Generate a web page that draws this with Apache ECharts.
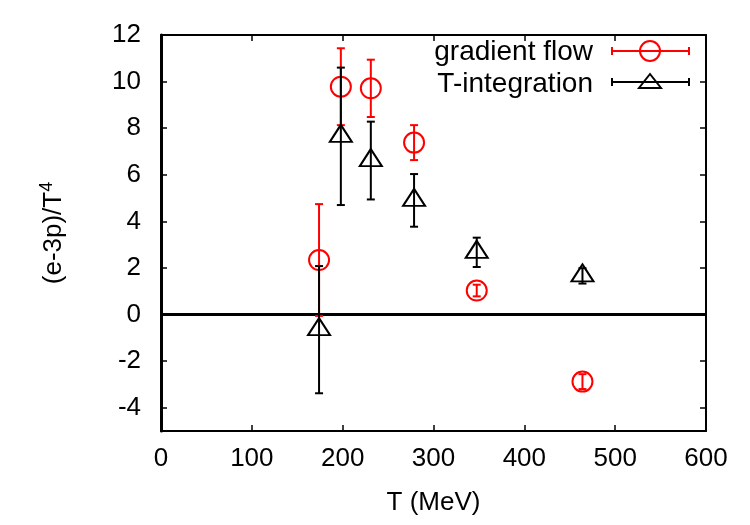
<!DOCTYPE html>
<html>
<head>
<meta charset="utf-8">
<script src="https://cdn.jsdelivr.net/npm/echarts@6/dist/echarts.min.js"></script>
<style>html,body{margin:0;padding:0;background:#fff}#c{width:750px;height:525px}</style>
</head>
<body>
<div id="c"></div>
<script>
// gradient flow: [T, value, error]
const gfT   = [174, 198, 231, 278.6, 347.6, 464];
const gfVal = [2.34, 9.78, 9.71, 7.38, 1.03, -2.88];
const gfErr = [2.40, 1.65, 1.23, 0.75, 0.25, 0.32];
// T-integration
const tiT   = [174, 198, 231, 278.6, 347.6, 464];
const tiVal = [-0.65, 7.65, 6.61, 4.90, 2.67, 1.66];
const tiErr = [2.73, 2.95, 1.67, 1.13, 0.63, 0.33];
const xTicks = [0, 100, 200, 300, 400, 500, 600];
const yTicks = [-4, -2, 0, 2, 4, 6, 8, 10, 12];
const legendNames = ['gradient flow', 'T-integration'];

const FONT = 'Liberation Sans';
const FS = 26;
const gf = gfT.map((t, i) => [t, gfVal[i], gfErr[i]]);
const ti = tiT.map((t, i) => [t, tiVal[i], tiErr[i]]);

function errRender(color) {
  return function (params, api) {
    const x = api.value(0), y = api.value(1), e = api.value(2);
    const p1 = api.coord([x, y + e]);
    const p2 = api.coord([x, y - e]);
    const hw = 4;
    const st = { stroke: color, lineWidth: 2 };
    return {
      type: 'group',
      children: [
        { type: 'line', shape: { x1: p1[0], y1: p1[1], x2: p2[0], y2: p2[1] }, style: st },
        { type: 'line', shape: { x1: p1[0] - hw, y1: p1[1], x2: p1[0] + hw, y2: p1[1] }, style: st },
        { type: 'line', shape: { x1: p2[0] - hw, y1: p2[1], x2: p2[0] + hw, y2: p2[1] }, style: st }
      ]
    };
  };
}

const chart = echarts.init(document.getElementById('c'), null, { renderer: 'canvas' });
const tickStyle = { show: true, inside: true, length: 6, lineStyle: { color: '#000', width: 1.5 } };
const axisLine = { show: true, onZero: false, lineStyle: { color: '#000', width: 2 } };

chart.setOption({
  backgroundColor: '#fff',
  animation: false,
  grid: { left: 161, top: 35, right: 44, bottom: 94, show: false },
  xAxis: [
    {
      type: 'value', min: 0, max: 600, interval: 100, position: 'bottom',
      axisLine: axisLine, axisTick: tickStyle, splitLine: { show: false },
      axisLabel: { color: '#000', fontFamily: FONT, fontSize: FS, margin: 15, customValues: xTicks },
      name: 'T (MeV)', nameLocation: 'middle', nameGap: 59,
      nameTextStyle: { color: '#000', fontFamily: FONT, fontSize: FS }
    },
    {
      type: 'value', min: 0, max: 600, interval: 100, position: 'top',
      axisLine: axisLine, axisTick: tickStyle, splitLine: { show: false },
      axisLabel: { show: false }
    }
  ],
  yAxis: [
    {
      type: 'value', min: -5, max: 12, position: 'left',
      axisLine: { show: true, onZero: false, lineStyle: { color: '#000', width: 3 } },
      axisTick: Object.assign({}, tickStyle, { customValues: yTicks }),
      splitLine: { show: false },
      axisLabel: { color: '#000', fontFamily: FONT, fontSize: FS, margin: 20, customValues: yTicks },
      name: '{a|(e-3p)/T}{s|4}', nameLocation: 'middle', nameGap: 91,
      nameTextStyle: {
        rich: {
          a: { color: '#000', fontFamily: FONT, fontSize: FS },
          s: { color: '#000', fontFamily: FONT, fontSize: 18, verticalAlign: 'top', padding: [0, 0, 14, 0] }
        }
      }
    },
    {
      type: 'value', min: -5, max: 12, position: 'right',
      axisLine: axisLine,
      axisTick: Object.assign({}, tickStyle, { customValues: yTicks }),
      splitLine: { show: false },
      axisLabel: { show: false }
    }
  ],
  series: [
    {
      type: 'line', data: [[0, 0], [600, 0]], symbol: 'none', z: 1,
      lineStyle: { color: '#000', width: 3 }, silent: true
    },
    {
      name: 'gradient flow err', type: 'custom', data: gf, renderItem: errRender('#ff0000'), z: 2,
      encode: { x: 0, y: 1 }
    },
    {
      name: legendNames[0], type: 'scatter', data: gf, symbol: 'circle', symbolSize: 20, z: 3,
      itemStyle: { color: 'rgba(0,0,0,0)', borderColor: '#ff0000', borderWidth: 2, opacity: 1 }
    },
    {
      name: 'T-integration err', type: 'custom', data: ti, renderItem: errRender('#000000'), z: 4,
      encode: { x: 0, y: 1 }
    },
    {
      name: legendNames[1], type: 'scatter', data: ti, symbol: 'triangle', symbolSize: [22, 17],
      symbolOffset: [0, -3], z: 5,
      itemStyle: { color: 'rgba(0,0,0,0)', borderColor: '#000', borderWidth: 2, opacity: 1 }
    }
  ],
  graphic: [
    { type: 'text', x: 593, y: 52, style: { text: legendNames[0], fill: '#000', font: '28px "Liberation Sans"', align: 'right', verticalAlign: 'middle' } },
    { type: 'text', x: 593, y: 84, style: { text: legendNames[1], fill: '#000', font: '28px "Liberation Sans"', align: 'right', verticalAlign: 'middle' } },
    { type: 'line', shape: { x1: 612, y1: 51, x2: 689, y2: 51 }, style: { stroke: '#ff0000', lineWidth: 2 } },
    { type: 'line', shape: { x1: 612, y1: 47, x2: 612, y2: 55 }, style: { stroke: '#ff0000', lineWidth: 2 } },
    { type: 'line', shape: { x1: 689, y1: 47, x2: 689, y2: 55 }, style: { stroke: '#ff0000', lineWidth: 2 } },
    { type: 'circle', shape: { cx: 650, cy: 51, r: 10 }, style: { stroke: '#ff0000', lineWidth: 2, fill: 'none' } },
    { type: 'line', shape: { x1: 612, y1: 82, x2: 689, y2: 82 }, style: { stroke: '#000', lineWidth: 2 } },
    { type: 'line', shape: { x1: 612, y1: 78, x2: 612, y2: 86 }, style: { stroke: '#000', lineWidth: 2 } },
    { type: 'line', shape: { x1: 689, y1: 78, x2: 689, y2: 86 }, style: { stroke: '#000', lineWidth: 2 } },
    { type: 'polygon', shape: { points: [[650, 74], [661, 88], [639, 88]] }, style: { stroke: '#000', lineWidth: 2, fill: 'none' } }
  ]
});
</script>
</body>
</html>
